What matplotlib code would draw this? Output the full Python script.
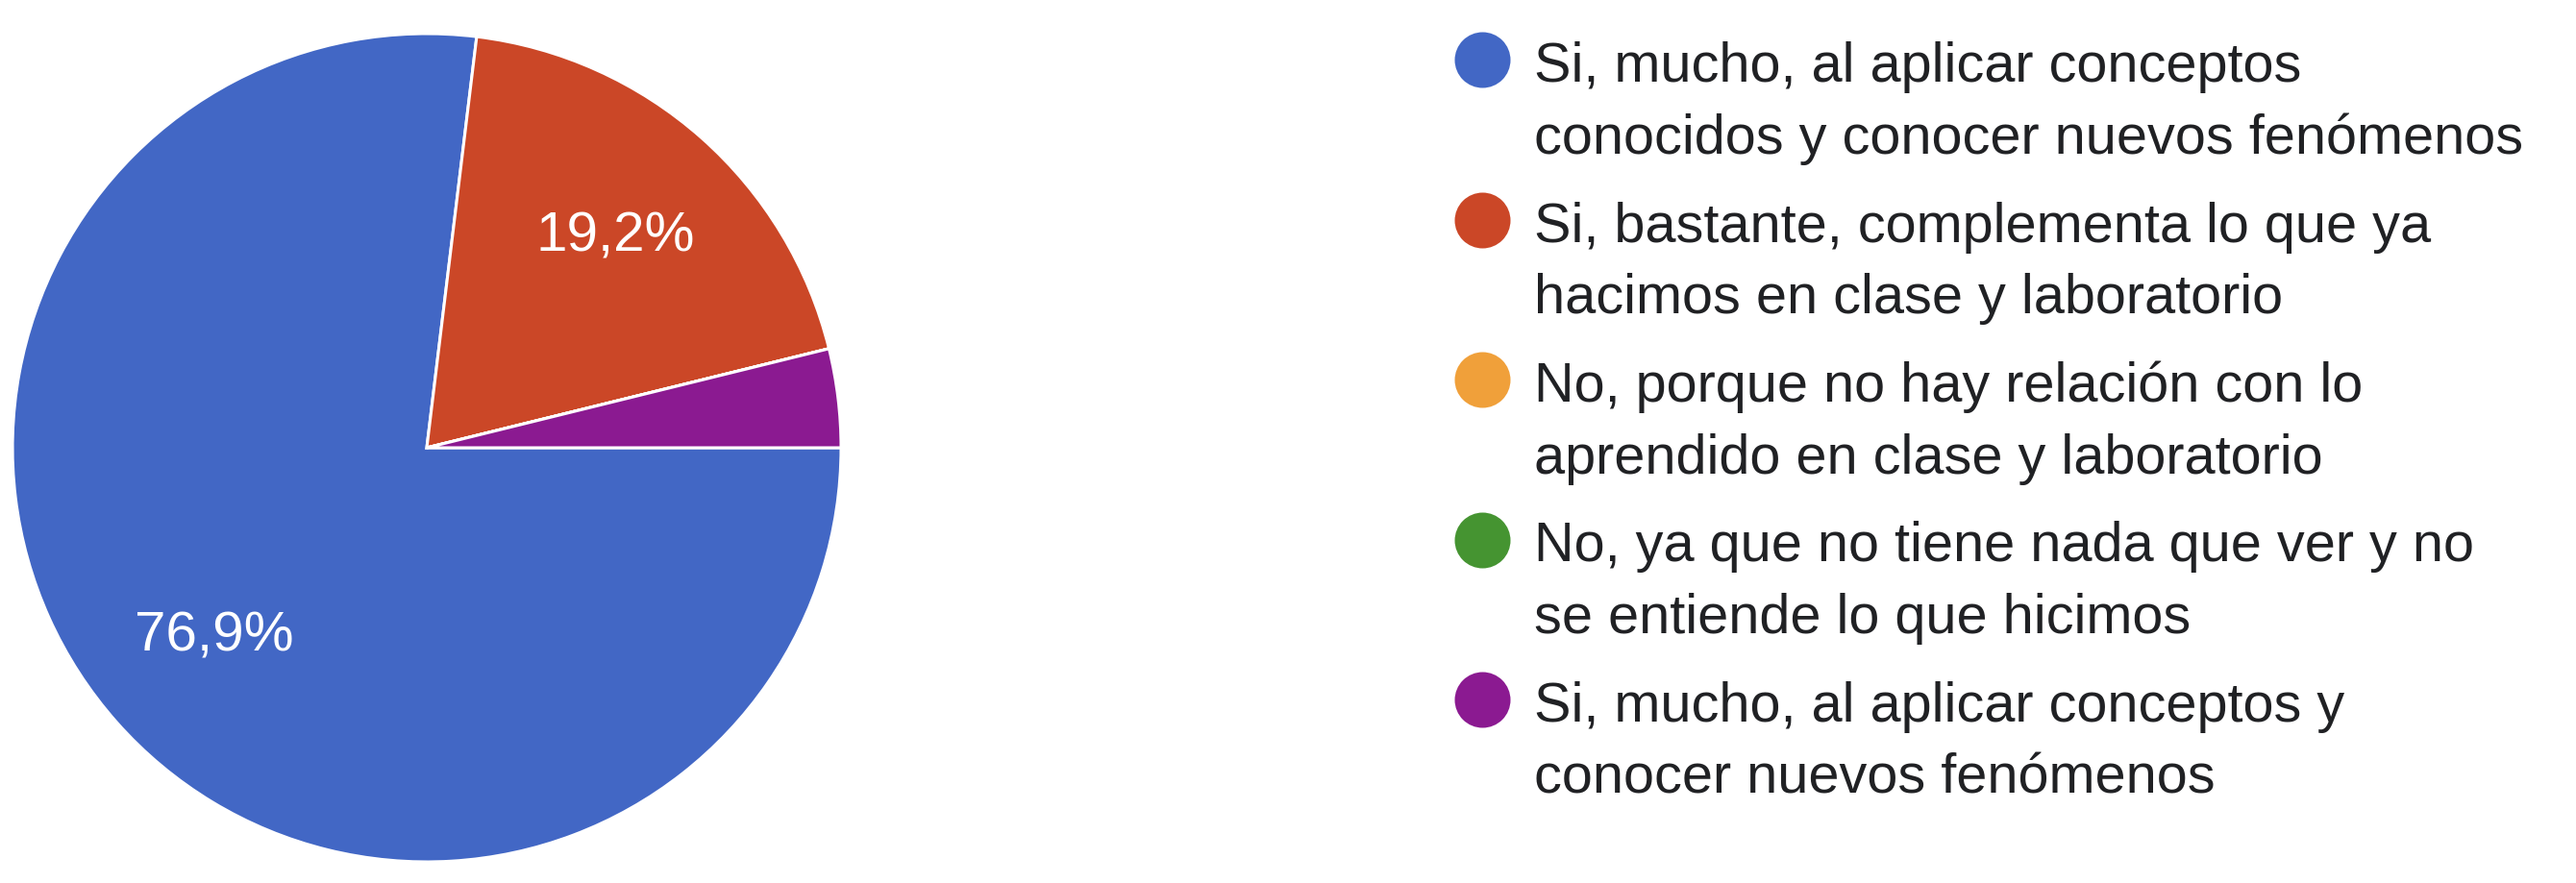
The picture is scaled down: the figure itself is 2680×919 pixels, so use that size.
import matplotlib

matplotlib.use("Agg")
import matplotlib.pyplot as plt

# answers (Google Forms style pie), counts out of 26 responses
labels = [
    "Si, mucho, al aplicar conceptos\nconocidos y conocer nuevos fenómenos",
    "Si, bastante, complementa lo que ya\nhacimos en clase y laboratorio",
    "No, porque no hay relación con lo\naprendido en clase y laboratorio",
    "No, ya que no tiene nada que ver y no\nse entiende lo que hicimos",
    "Si, mucho, al aplicar conceptos y\nconocer nuevos fenómenos",
]
counts = [20, 5, 0, 0, 1]
colors = ["#4267C5", "#CB4727", "#F0A03A", "#459431", "#8B1A91"]

W, H = 2680, 920
FONT = "Liberation Sans"
TEXT_COLOR = "#202124"


def pct_label(p):
    if p < 5:
        return ""
    return f"{p:.1f}%".replace(".", ",")


def main() -> None:
    fig = plt.figure(figsize=(W / 100, H / 100), dpi=100)
    fig.patch.set_facecolor("white")

    # pie: centre (444, 467) px, radius 431 px
    cx, cy, r = 444, 467, 431
    ax = fig.add_axes([(cx - r) / W, (H - cy - r) / H, 2 * r / W, 2 * r / H])
    wedges, texts, autotexts = ax.pie(
        counts,
        colors=colors,
        startangle=0,
        counterclock=False,
        autopct=pct_label,
        pctdistance=0.685,
        wedgeprops=dict(edgecolor="white", linewidth=2.2),
        textprops=dict(color="white", fontsize=42, family=FONT),
    )
    ax.set_xlim(-1, 1)
    ax.set_ylim(-1, 1)
    ax.set_aspect("equal")
    ax.axis("off")

    # legend drawn in pixel coordinates
    lax = fig.add_axes([0, 0, 1, 1], zorder=-1)
    lax.set_xlim(0, W)
    lax.set_ylim(H, 0)
    lax.axis("off")
    first_y = 63
    pitch = 166.5
    line_gap = 75
    for i, (label, color) in enumerate(zip(labels, colors)):
        y = first_y + i * pitch
        lax.scatter([1542], [y], s=1744, color=color, linewidths=0)
        for j, line in enumerate(label.split("\n")):
            lax.text(
                1596,
                y + 22 + j * line_gap,
                line,
                fontsize=41.5,
                family=FONT,
                color=TEXT_COLOR,
                va="baseline",
                ha="left",
            )

    fig.savefig("out.png", dpi=100, facecolor="white")
    plt.close(fig)


if __name__ == "__main__":
    main()
